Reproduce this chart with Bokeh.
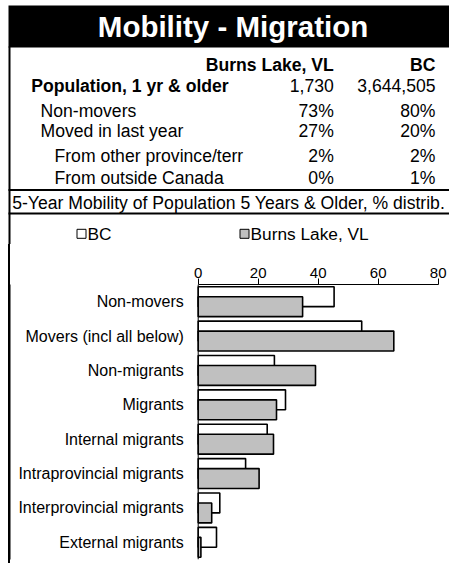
from bokeh.plotting import figure
from bokeh.layouts import column
from bokeh.models import Range1d, FactorRange, ColumnDataSource, Span, FixedTicker, BoxAnnotation
from bokeh.transform import dodge
from bokeh.core.properties import value
from bokeh.embed import file_html
from bokeh.resources import INLINE

# ---------------- data ----------------
title = "Mobility - Migration"
area_names = ["Burns Lake, VL", "BC"]
population_label = "Population, 1 yr & older"
population = [1730, 3644505]
table_rows = ["Non-movers", "Moved in last year", "From other province/terr", "From outside Canada"]
burns_lake_pct = [73, 27, 2, 0]
bc_pct = [80, 20, 2, 1]
subtitle = "5-Year Mobility of Population 5 Years & Older, % distrib."

categories = ["Non-movers", "Movers (incl all below)", "Non-migrants", "Migrants",
              "Internal migrants", "Intraprovincial migrants",
              "Interprovincial migrants", "External migrants"]
bc_values = [45.3, 54.5, 25.4, 29.1, 23.0, 15.8, 7.2, 6.1]
burns_lake_values = [34.8, 65.2, 39.1, 26.1, 25.1, 20.3, 4.5, 0.9]
x_ticks = [0, 20, 40, 60, 80]

FONT = value("Liberation Sans")
GREY = "#c0c0c0"
W = 449
TXT = value("17.6px")

# ---------------- header (table) ----------------
HH = 244
head = figure(width=W, height=HH, x_range=Range1d(0, W), y_range=Range1d(HH, 0),
              output_backend="svg", toolbar_location=None, min_border=0,
              x_axis_location=None, y_axis_location=None, outline_line_color=None)
head.grid.visible = False
head.background_fill_color = "white"
head.border_fill_color = "white"

# black title band
head.quad(left=8, right=W, top=5, bottom=47, fill_color="black", line_color=None)
head.text(x=[232.5], y=[25.8], text=[title], text_align="center", text_baseline="middle",
          text_font=FONT, text_font_style="bold", text_font_size=value("29.5px"), text_color="white")

# frame lines
head.segment(x0=[9], y0=[46], x1=[9], y1=[HH], line_color="black", line_width=2)
head.segment(x0=[8, 8], y0=[189.5, 213], x1=[W, W], y1=[189.5, 213], line_color="black", line_width=2)

# column headers
col_x = [333.3, 435]
head.text(x=col_x, y=[64.5, 64.5], text=area_names, text_align="right", text_baseline="middle",
          text_font=FONT, text_font_style="bold", text_font_size=TXT, text_color="black")
# population row
head.text(x=[30.7], y=[85.2], text=[population_label], text_align="left", text_baseline="middle",
          text_font=FONT, text_font_style="bold", text_font_size=TXT, text_color="black")
head.text(x=col_x, y=[85.2, 85.2], text=[f"{v:,}" for v in population], text_align="right",
          text_baseline="middle", text_font=FONT, text_font_size=TXT, text_color="black")

row_y = [110.8, 130.8, 155.5, 177.8]
row_x = [40, 40, 54, 54]
head.text(x=row_x, y=row_y, text=table_rows, text_align="left", text_baseline="middle",
          text_font=FONT, text_font_size=TXT, text_color="black")
head.text(x=[col_x[0]] * 4, y=row_y, text=[f"{v}%" for v in burns_lake_pct], text_align="right",
          text_baseline="middle", text_font=FONT, text_font_size=TXT, text_color="black")
head.text(x=[col_x[1]] * 4, y=row_y, text=[f"{v}%" for v in bc_pct], text_align="right",
          text_baseline="middle", text_font=FONT, text_font_size=TXT, text_color="black")

# subtitle
head.text(x=[11.7], y=[202.2], text=[subtitle], text_align="left", text_baseline="middle",
          text_font=FONT, text_font_size=TXT, text_color="black")

# legend
head.rect(x=[81, 244], y=[233.3, 233.3], width=9, height=9, fill_color=["white", GREY],
          line_color="black", line_width=1)
head.text(x=[87, 250], y=[233.3, 233.3], text=["BC", "Burns Lake, VL"], text_align="left",
          text_baseline="middle", text_font=FONT, text_font_size=value("17.3px"), text_color="black")

# ---------------- bar chart ----------------
BH = 563 - HH
x0 = -197.7 / 3.0
bars = figure(width=W, height=BH, x_range=Range1d(x0, x0 + W / 3.0),
              y_range=FactorRange(factors=list(reversed(categories)), range_padding=0, factor_padding=0),
              output_backend="svg", toolbar_location=None,
              x_axis_location="above", y_axis_location=None,
              min_border_top=284 - HH, min_border_left=0, min_border_right=0, min_border_bottom=4,
              outline_line_color=None,
              styles={"background": "linear-gradient(to right, #ffffff 8px, #000000 8px, "
                                    "#000000 10px, #ffffff 10px)"})
bars.grid.visible = False
bars.background_fill_alpha = 0
bars.border_fill_alpha = 0

src = ColumnDataSource(dict(cat=categories, bc=bc_values, bl=burns_lake_values))
bars.hbar(y=dodge("cat", 0.145, range=bars.y_range), left=0, right="bc", height=0.58,
          fill_color="white", line_color="black", line_width=1.6, source=src)
bars.hbar(y=dodge("cat", -0.145, range=bars.y_range), left=0, right="bl", height=0.58,
          fill_color=GREY, line_color="black", line_width=1.6, source=src)
bars.text(x=-4.8, y="cat", text="cat", text_align="right", text_baseline="middle",
          text_font=FONT, text_font_size=value("16px"), text_color="black", source=src)

bars.add_layout(Span(location=0, dimension="height", line_color="black", line_width=1))
bars.add_layout(BoxAnnotation(left=8, right=10, top=0, bottom=BH,
                              left_units="canvas", right_units="canvas",
                              top_units="canvas", bottom_units="canvas",
                              fill_color="black", fill_alpha=1.0, line_color=None))

ax = bars.xaxis[0]
ax.ticker = FixedTicker(ticks=x_ticks)
ax.bounds = (0, 80)
ax.axis_line_color = "black"
ax.major_tick_line_color = "black"
ax.major_tick_out = 6
ax.major_tick_in = 0
ax.minor_tick_out = 0
ax.minor_tick_in = 0
ax.major_label_standoff = 1
ax.major_label_text_font = "Liberation Sans"
ax.major_label_text_font_size = "15px"
ax.major_label_text_color = "black"

layout = column(head, bars, spacing=0)
open("out.html", "w").write(file_html(layout, INLINE))
